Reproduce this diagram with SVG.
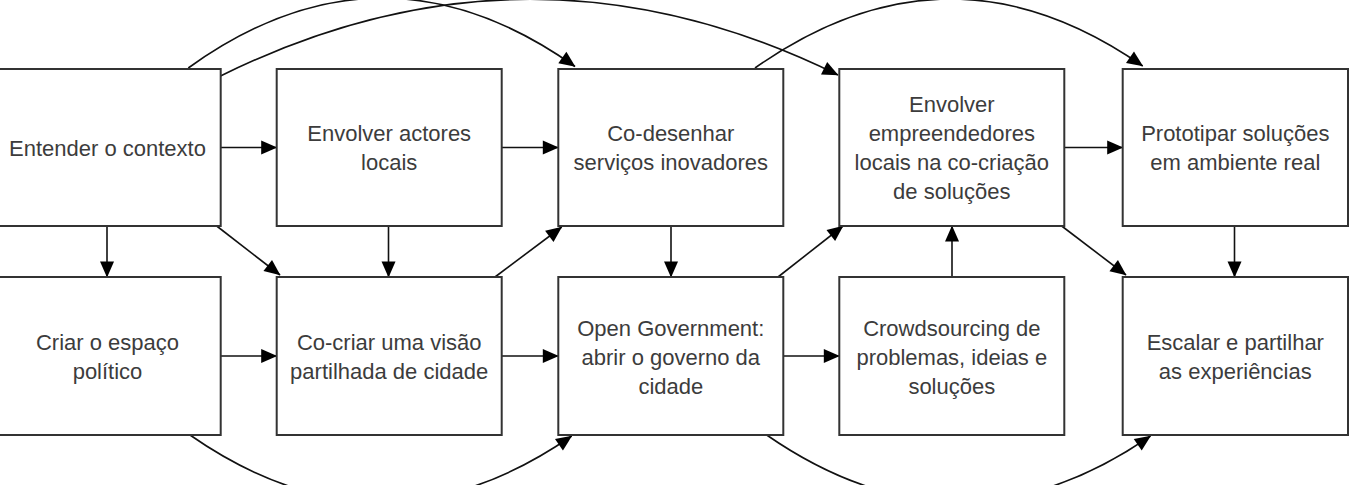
<svg xmlns="http://www.w3.org/2000/svg" width="1355" height="485" viewBox="0 0 1355 485">
<defs>
<marker id="ah" markerUnits="userSpaceOnUse" markerWidth="17" markerHeight="14" refX="15.5" refY="7" orient="auto" overflow="visible">
<path d="M0,0 L16,7 L0,14 Z" fill="#000"/>
</marker>
<style>
.box{fill:#fff;stroke:#333;stroke-width:2}
.lbl{font-family:"Liberation Sans",Arial,Helvetica,sans-serif;font-size:22px;fill:#3c3c3c;text-anchor:middle}
.c{fill:none;stroke:#111;stroke-width:1.6;marker-end:url(#ah)}
</style>
</defs>
<rect width="1355" height="485" fill="#fff"/>
<g id="connectors">
<line class="c" x1="220.7" y1="147.5" x2="276.7" y2="147.5"/>
<line class="c" x1="501.7" y1="147.5" x2="558.3" y2="147.5"/>
<line class="c" x1="1064.3" y1="147.5" x2="1122.7" y2="147.5"/>
<line class="c" x1="220.7" y1="356" x2="276.7" y2="356"/>
<line class="c" x1="501.7" y1="356" x2="558.3" y2="356"/>
<line class="c" x1="783.3" y1="356" x2="839.3" y2="356"/>
<line class="c" x1="107" y1="226" x2="107" y2="277"/>
<line class="c" x1="388.5" y1="226" x2="388.5" y2="277"/>
<line class="c" x1="671" y1="226" x2="671" y2="277"/>
<line class="c" x1="1234.5" y1="226" x2="1234.5" y2="277"/>
<line class="c" x1="952" y1="277" x2="952" y2="226"/>
<line class="c" x1="216.7" y1="226" x2="280" y2="275"/>
<line class="c" x1="495" y1="277" x2="561.7" y2="227"/>
<line class="c" x1="778" y1="277" x2="843" y2="226"/>
<line class="c" x1="1061.7" y1="226" x2="1126" y2="275"/>
<path class="c" d="M188.3,68 Q381,-71 575,66.5"/>
<path class="c" d="M220.5,76 Q529,-77 838,75"/>
<path class="c" d="M755,68 Q949,-69 1142.7,66"/>
<path class="c" d="M190,435 Q381,568 571.7,436"/>
<path class="c" d="M766.7,435 Q959,568 1150.5,436"/>
</g>
<g id="n1"><rect class="box" x="-4.5" y="69" width="225.2" height="157"/>
<text class="lbl" x="107.5" y="156">Entender o contexto</text></g>
<g id="n2"><rect class="box" x="276.7" y="69" width="225" height="157"/>
<text class="lbl" x="389.2" y="141">Envolver actores</text>
<text class="lbl" x="389.2" y="170">locais</text></g>
<g id="n3"><rect class="box" x="558.3" y="69" width="225" height="157"/>
<text class="lbl" x="670.8" y="141">Co-desenhar</text>
<text class="lbl" x="670.8" y="170">serviços inovadores</text></g>
<g id="n4"><rect class="box" x="839.3" y="69" width="225" height="157"/>
<text class="lbl" x="951.8" y="112">Envolver</text>
<text class="lbl" x="951.8" y="141">empreendedores</text>
<text class="lbl" x="951.8" y="170">locais na co-criação</text>
<text class="lbl" x="951.8" y="199">de soluções</text></g>
<g id="n5"><rect class="box" x="1122.7" y="69" width="225.3" height="157"/>
<text class="lbl" x="1235.3" y="141">Prototipar soluções</text>
<text class="lbl" x="1235.3" y="170">em ambiente real</text></g>
<g id="n6"><rect class="box" x="-4.5" y="277" width="225.2" height="158"/>
<text class="lbl" x="107.5" y="349.5">Criar o espaço</text>
<text class="lbl" x="107.5" y="378.5">político</text></g>
<g id="n7"><rect class="box" x="276.7" y="277" width="225" height="158"/>
<text class="lbl" x="389.2" y="349.5">Co-criar uma visão</text>
<text class="lbl" x="389.2" y="378.5">partilhada de cidade</text></g>
<g id="n8"><rect class="box" x="558.3" y="277" width="225" height="158"/>
<text class="lbl" x="670.8" y="335.5">Open Government:</text>
<text class="lbl" x="670.8" y="364.5">abrir o governo da</text>
<text class="lbl" x="670.8" y="393.5">cidade</text></g>
<g id="n9"><rect class="box" x="839.3" y="277" width="225" height="158"/>
<text class="lbl" x="951.8" y="335.5">Crowdsourcing de</text>
<text class="lbl" x="951.8" y="364.5">problemas, ideias e</text>
<text class="lbl" x="951.8" y="393.5">soluções</text></g>
<g id="n10"><rect class="box" x="1122.7" y="277" width="225.3" height="158"/>
<text class="lbl" x="1235.3" y="349.5">Escalar e partilhar</text>
<text class="lbl" x="1235.3" y="378.5">as experiências</text></g>
</svg>
